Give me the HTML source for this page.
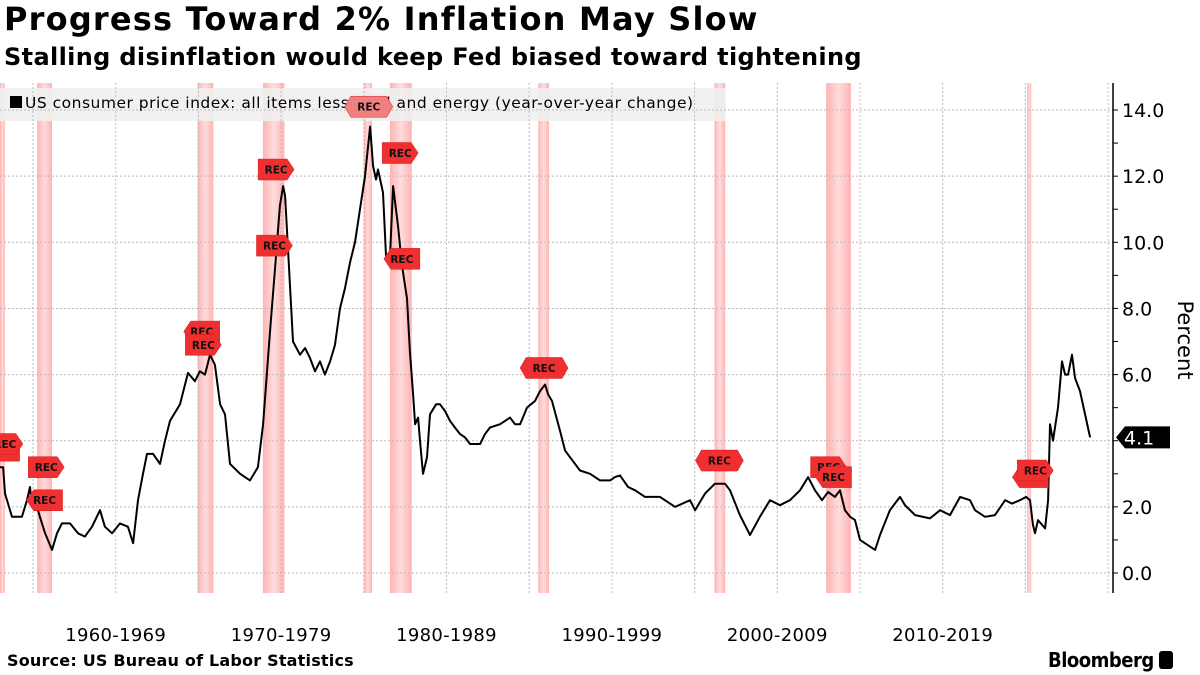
<!DOCTYPE html>
<html><head><meta charset="utf-8"><style>
html,body{margin:0;padding:0;background:#fff;}
body{width:1200px;height:675px;overflow:hidden;position:relative;font-family:"DejaVu Sans","Liberation Sans",sans-serif;}
#title{position:absolute;left:4px;top:0px;font-size:32px;font-weight:bold;color:#000;white-space:nowrap;letter-spacing:1.2px;}
#subtitle{position:absolute;left:4px;top:43px;font-size:24px;font-weight:bold;color:#000;white-space:nowrap;letter-spacing:0.35px;}
#source{position:absolute;left:7px;top:651px;font-size:16px;font-weight:bold;font-family:"DejaVu Sans",sans-serif;letter-spacing:0.2px;}
#brand{position:absolute;left:1048px;top:648px;font-size:20px;font-weight:bold;font-family:"DejaVu Sans Condensed","DejaVu Sans",sans-serif;letter-spacing:-0.5px;}
svg{position:absolute;left:0;top:0;}
</style></head><body>
<div id="title">Progress Toward 2% Inflation May Slow</div>
<div id="subtitle">Stalling disinflation would keep Fed biased toward tightening</div>
<svg id="chart" width="1200" height="675"></svg>
<div id="source">Source: US Bureau of Labor Statistics</div>
<div id="brand">Bloomberg <span style="display:inline-block;width:14px;height:18px;background:#000;border-radius:3px;vertical-align:-2px"></span></div>
<script>
const years=[1958.0,1958.19,1958.31,1958.73,1959.33,1959.64,1959.82,1959.94,1960.18,1960.42,1960.73,1961.15,1961.45,1961.75,1962.24,1962.72,1963.14,1963.57,1964.05,1964.35,1964.78,1965.26,1965.74,1966.05,1966.35,1966.65,1966.89,1967.26,1967.68,1967.98,1968.28,1968.89,1969.37,1969.79,1970.09,1970.40,1970.70,1971.00,1971.31,1971.61,1971.91,1972.52,1973.12,1973.60,1973.91,1974.33,1974.63,1974.93,1975.12,1975.24,1975.42,1975.72,1976.14,1976.45,1976.75,1977.05,1977.35,1977.65,1977.96,1978.26,1978.56,1978.86,1979.17,1979.47,1979.77,1980.07,1980.38,1980.56,1980.74,1980.86,1981.16,1981.34,1981.58,1981.77,1982.07,1982.31,1982.61,1982.79,1982.98,1983.10,1983.28,1983.40,1983.58,1983.82,1984.00,1984.37,1984.61,1984.91,1985.21,1985.51,1985.82,1986.12,1986.42,1987.03,1987.33,1987.63,1988.24,1988.84,1989.14,1989.45,1989.87,1990.35,1990.65,1990.96,1991.14,1991.38,1991.86,1992.17,1992.47,1993.07,1993.68,1994.28,1994.89,1995.19,1995.49,1995.98,1996.40,1997.00,1997.91,1998.82,1999.72,2000.03,2000.63,2001.23,2001.84,2002.14,2002.74,2003.35,2003.95,2004.56,2005.16,2005.77,2006.37,2006.86,2007.28,2007.70,2008.07,2008.49,2008.79,2009.09,2009.40,2009.70,2010.00,2010.91,2011.21,2011.81,2012.42,2012.72,2013.33,2014.23,2014.84,2015.44,2016.05,2016.65,2016.95,2017.56,2018.16,2018.77,2019.19,2019.67,2020.04,2020.28,2020.46,2020.58,2020.76,2021.19,2021.37,2021.49,2021.67,2021.97,2022.21,2022.40,2022.58,2022.82,2023.00,2023.30,2023.91];
const values=[3.2,3.2,2.4,1.7,1.7,2.2,2.6,2.0,2.1,1.7,1.2,0.7,1.2,1.5,1.5,1.2,1.1,1.4,1.9,1.4,1.2,1.5,1.4,0.9,2.2,3.0,3.6,3.6,3.3,4.0,4.6,5.1,6.05,5.8,6.1,6.0,6.6,6.3,5.1,4.8,3.3,3.0,2.8,3.2,4.5,7.3,9.2,11.1,11.7,11.4,9.8,7.0,6.6,6.8,6.5,6.1,6.4,6.0,6.4,6.9,8.0,8.6,9.4,10.0,11.0,12.0,13.5,12.3,11.9,12.2,11.5,9.6,9.5,11.7,10.5,9.3,8.3,6.7,5.4,4.5,4.7,4.0,3.0,3.5,4.8,5.1,5.1,4.9,4.6,4.4,4.2,4.1,3.9,3.9,4.2,4.4,4.5,4.7,4.5,4.5,5.0,5.2,5.5,5.7,5.4,5.2,4.3,3.7,3.5,3.1,3.0,2.8,2.8,2.9,2.95,2.6,2.5,2.3,2.3,2.0,2.2,1.9,2.4,2.7,2.7,2.5,1.75,1.15,1.7,2.2,2.05,2.2,2.5,2.9,2.5,2.2,2.45,2.3,2.5,1.9,1.7,1.6,1.0,0.7,1.15,1.9,2.3,2.05,1.75,1.65,1.9,1.75,2.3,2.2,1.9,1.7,1.75,2.2,2.1,2.2,2.3,2.2,1.45,1.2,1.6,1.35,2.2,4.5,4.0,5.0,6.4,6.0,6.0,6.6,5.9,5.5,4.1];
const recStart=[1957.6,1960.25,1969.95,1973.9,1980.0,1981.58,1990.55,2001.2,2007.95,2020.1];
const recEnd=[1958.3,1961.15,1970.9,1975.2,1980.5,1982.9,1991.2,2001.85,2009.45,2020.35];
const yTicks=[0,2,4,6,8,10,12,14];
const yTickLabels=["0.0","2.0","","6.0","8.0","10.0","12.0","14.0"];
const decadeLabels=["1960-1969","1970-1979","1980-1989","1990-1999","2000-2009","2010-2019"];
const decadeMid=[1965,1975,1985,1995,2005,2015];
const flagYears=[1958.1,1958.3,1960.8,1960.7,1970.2,1970.3,1974.7,1974.6,1980.3,1982.2,1982.3,1990.9,2001.5,2008.1,2008.4,2020.3,2020.6];
const flagValues=[3.7,3.9,3.2,2.2,7.3,6.9,12.2,9.9,14.1,12.7,9.5,6.2,3.4,3.2,2.9,2.9,3.1];
const flagDir=[-1,1,1,-1,-1,1,1,1,0,1,-1,0,0,1,-1,-1,1];

const NS="http://www.w3.org/2000/svg";
const svg=document.getElementById('chart');
const X0=0,X1=1113,Y0=83,Y1=593;
const xs=y=>33+(y-1960)*16.54;
const ys=v=>573-v*33.07;
function mk(t,a,p){const e=document.createElementNS(NS,t);for(const k in a)e.setAttribute(k,a[k]);(p||svg).appendChild(e);return e;}

const defs=mk('defs',{});
const g=mk('linearGradient',{id:'recg',x1:'0',x2:'1',y1:'0',y2:'0'},defs);
mk('stop',{offset:'0','stop-color':'#ffb3b3'},g);mk('stop',{offset:'0.5','stop-color':'#ffdcdc'},g);mk('stop',{offset:'1','stop-color':'#ffb3b3'},g);

recStart.forEach((s,i)=>{
  const a=Math.max(X0,xs(s)),b=xs(recEnd[i]);
  const r=mk('rect',{x:a,y:Y0,width:Math.max(2,b-a),height:Y1-Y0,fill:'url(#recg)'});
  
  
});
const lb=mk('rect',{x:0,y:88,width:725,height:33,fill:'#efefef','fill-opacity':'0.9'});


for(let yr=1960;yr<=2025;yr+=5){const l=mk('line',{x1:xs(yr),x2:xs(yr),y1:Y0,y2:Y1,stroke:'#bbb','stroke-dasharray':'2,2','stroke-width':1});

}
yTicks.forEach((v)=>{const l=mk('line',{x1:X0,x2:X1,y1:ys(v),y2:ys(v),stroke:'#bbb','stroke-dasharray':'2,2','stroke-width':1});

});
const lm=mk('rect',{x:10,y:96,width:12,height:12,fill:'#000'});


const lt=mk('text',{x:25,y:108,'font-size':15.5,fill:'#000','font-family':'DejaVu Sans, sans-serif','letter-spacing':0.5});
lt.textContent='US consumer price index: all items less food and energy (year-over-year change)';


let d='';years.forEach((y,i)=>{d+=(i?'L':'M')+xs(y).toFixed(1)+','+ys(values[i]).toFixed(1);});
const line=mk('path',{d:d,fill:'none',stroke:'#000','stroke-width':2,'stroke-linejoin':'round'});


flagYears.forEach((fy,i)=>{
  const cx=xs(fy),cy=ys(flagValues[i]),w=36,h=21,dir=flagDir[i];
  let pts;
  if(dir===0) pts=[[cx-w/2-6,cy],[cx-w/2,cy-h/2],[cx+w/2,cy-h/2],[cx+w/2+6,cy],[cx+w/2,cy+h/2],[cx-w/2,cy+h/2]];
  else if(dir>0) pts=[[cx-w/2,cy-h/2],[cx+w/2-7,cy-h/2],[cx+w/2,cy],[cx+w/2-7,cy+h/2],[cx-w/2,cy+h/2]];
  else pts=[[cx-w/2,cy],[cx-w/2+7,cy-h/2],[cx+w/2,cy-h/2],[cx+w/2,cy+h/2],[cx-w/2+7,cy+h/2]];
  const fl=mk('polygon',{points:pts.map(p=>p.join(',')).join(' '),fill:i===8?'#f08080':'#f03030',stroke:'#d02020','stroke-width':0.5});
  
  
  const ft=mk('text',{x:cx,y:cy+4,'font-size':10.5,'font-weight':'bold','text-anchor':'middle',fill:'#111'});
  ft.textContent='REC';
  
  
});
const ax=mk('line',{x1:X1,x2:X1,y1:Y0,y2:Y1,stroke:'#000','stroke-width':1.5});


for(let v=0;v<=14;v++){const t=mk('line',{x1:X1,x2:X1+5,y1:ys(v),y2:ys(v),stroke:'#000','stroke-width':1});

}
yTicks.forEach((v,i)=>{if(!yTickLabels[i])return;const t=mk('text',{x:1122,y:ys(v)+7,'font-size':19,fill:'#000'});t.textContent=yTickLabels[i];

});
const lv=ys(values[values.length-1]);
const bd=mk('polygon',{points:`${X1+3},${lv} ${X1+12},${lv-11} ${1170},${lv-11} ${1170},${lv+11} ${X1+12},${lv+11}`,fill:'#000'});


const bt=mk('text',{x:1124,y:lv+7,'font-size':19,fill:'#fff'});bt.textContent='4.1';


const yt=mk('text',{x:0,y:0,'font-size':21,fill:'#000','text-anchor':'middle',transform:'translate(1178,340) rotate(90)'});yt.textContent='Percent';


decadeLabels.forEach((s,i)=>{const t=mk('text',{x:xs(decadeMid[i]),y:641,'font-size':18,'text-anchor':'middle',fill:'#000','font-family':'DejaVu Sans, sans-serif','letter-spacing':0.3});t.textContent=s;

});
</script>
</body></html>
